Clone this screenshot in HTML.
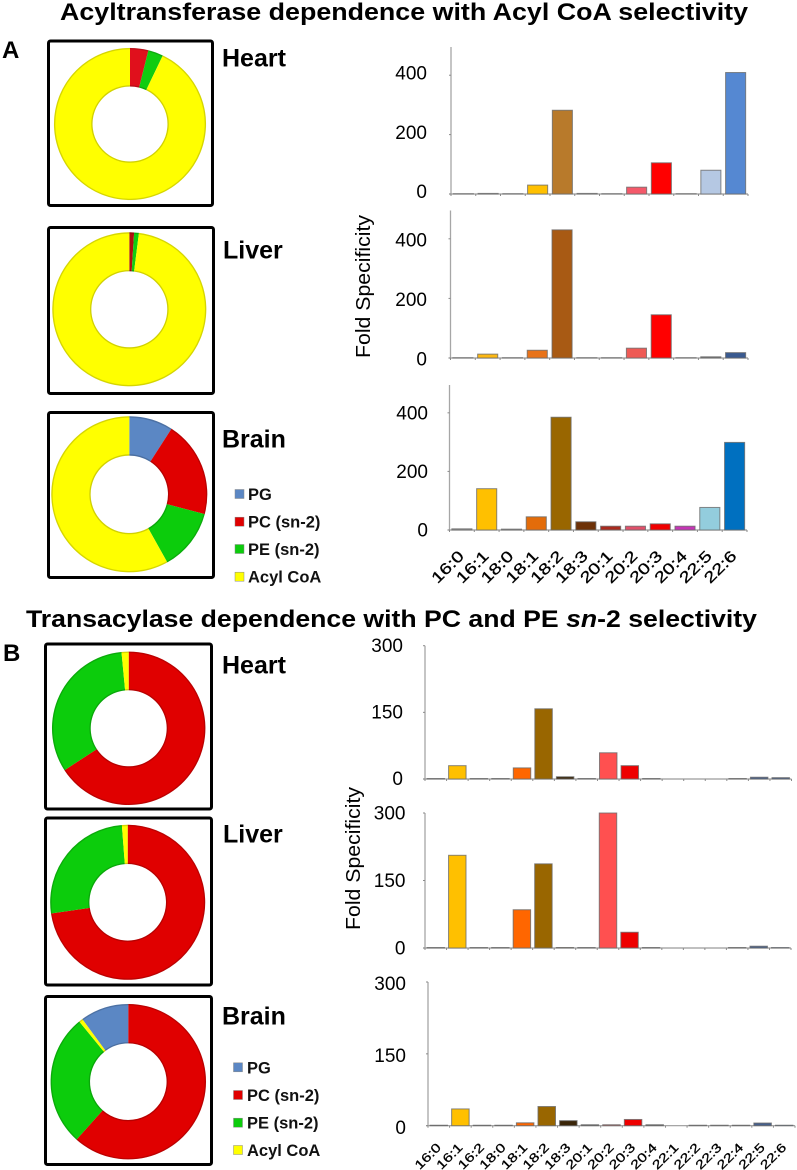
<!DOCTYPE html>
<html lang="en">
<head>
<meta charset="utf-8">
<title>Acyltransferase and transacylase selectivity</title>
<style>
  html, body { margin: 0; padding: 0; background: #fff; }
  #figure { display: block; width: 797px; height: 1170px; filter: blur(0.35px); font-family: "Liberation Sans", Arial, sans-serif; }
  .title { font-size: 24.5px; font-weight: bold; fill: #000; }
  .panel { font-size: 24px; font-weight: bold; fill: #000; }
  .organ { font-size: 25px; font-weight: bold; fill: #000; }
  .legend-text { font-size: 16.5px; font-weight: bold; fill: #111; }
  .fold { font-size: 20px; fill: #000; }
  .tick-label { font-size: 19px; fill: #000; }
  .cat-a { font-size: 15.5px; fill: #000; stroke: #000; stroke-width: .3; }
  .cat-b { font-size: 12.5px; fill: #000; stroke: #000; stroke-width: .3; }
</style>
</head>
<body>
<svg id="figure" xmlns="http://www.w3.org/2000/svg" width="797" height="1170" viewBox="0 0 797 1170">
  <rect x="0" y="0" width="797" height="1170" fill="#fff"/>

  <text class="title" x="60" y="20" textLength="688" lengthAdjust="spacingAndGlyphs">Acyltransferase dependence with Acyl CoA selectivity</text>
  <text class="title" x="26" y="627" textLength="731" lengthAdjust="spacingAndGlyphs">Transacylase dependence with PC and PE <tspan font-style="italic">sn</tspan>-2 selectivity</text>

  <text class="panel" x="2" y="58">A</text>
  <text class="panel" x="3" y="661">B</text>

  <text class="organ" x="222" y="66.7">Heart</text>
  <text class="organ" x="223" y="258.3">Liver</text>
  <text class="organ" x="222" y="447.7">Brain</text>
  <text class="organ" x="222" y="673.3">Heart</text>
  <text class="organ" x="223" y="842.7">Liver</text>
  <text class="organ" x="222" y="1024.3">Brain</text>

  <text class="fold" transform="translate(370,358) rotate(-90)" textLength="143" lengthAdjust="spacingAndGlyphs">Fold Specificity</text>
  <text class="fold" transform="translate(360,930) rotate(-90)" textLength="143" lengthAdjust="spacingAndGlyphs">Fold Specificity</text>

  <g id="donuts"></g>
  <g id="legends"></g>
  <g id="bars"></g>
</svg>

<script>
// ---- bar chart data ----
const categoriesA = ['16:0','16:1','18:0','18:1','18:2','18:3','20:1','20:2','20:3','20:4','22:5','22:6'];
const categoriesB = ['16:0','16:1','16:2','18:0','18:1','18:2','18:3','20:1','20:2','20:3','20:4','22:1','22:2','22:3','22:4','22:5','22:6'];
const tickLabelsA = [0, 200, 400];
const tickLabelsB = [0, 150, 300];

const heartAValues = [1, 2, 1, 30, 282, 2, 1, 23, 105, 1, 80, 409];
const liverAValues = [1, 13, 1, 26, 430, 1, 1, 33, 145, 1, 4, 18];
const brainAValues = [4, 141, 3, 45, 385, 28, 13, 13, 21, 13, 77, 299];
const heartBValues = [1, 30, 1, 1, 25, 158, 5, 1, 59, 30, 1, 0, 0, 0, 1, 4, 3];
const liverBValues = [1, 206, 1, 1, 85, 187, 1, 1, 300, 35, 1, 0, 0, 0, 1, 4, 1];
const brainBValues = [1, 35, 1, 1, 6, 40, 10.5, 2, 2, 13, 2, 0, 1, 1, 1, 5.6, 1];

// ---- donut data: share of PG, PC (sn-2), PE (sn-2), Acyl CoA ----
const donutSeries = ['PG', 'PC (sn-2)', 'PE (sn-2)', 'Acyl CoA'];
const heartAShares = [0, 3.9, 3.2, 92.9];
const liverAShares = [0, 1, 1, 98];
const brainAShares = [9.1, 20, 12.8, 58.1];
const heartBShares = [0, 65.8, 32.7, 1.5];
const liverBShares = [0, 72.7, 26.1, 1.2];
const brainBShares = [10.1, 61.6, 27.5, 0.8];

// ---- styling ----
const barColorsHeartA = ['#999','#999','#999','#ffc000','#b87a2b','#999','#999','#f4596a','#ff0000','#999','#b5c8e3','#5588d2'];
const barColorsLiverA = ['#999','#fdb813','#999','#e8731a','#a85a14','#999','#999','#ee5a55','#ff0000','#999','#777','#3a5a90'];
const barColorsBrainA = ['#999','#ffc000','#999','#e36c0a','#996600','#6e3208','#a92a1e','#e0506a','#f00000','#c535b5','#93cddd','#0070c0'];
const barColorsB = ['#555','#ffc000','#555','#555','#ff6600','#996600','#3a2508','#555','#ff5050','#ee0000','#555','#888','#666','#666','#555','#46608c','#46608c'];
const sliceColors = ['#5b87c4', '#e00000', '#0ccc0c', '#ffff00'];

const NS = 'http://www.w3.org/2000/svg';
function make(tag, attrs, parent) {
  const el = document.createElementNS(NS, tag);
  for (const k in attrs) el.setAttribute(k, attrs[k]);
  parent.appendChild(el);
  return el;
}

function drawBarChart(c) {
  const root = document.getElementById('bars');
  const g = make('g', {}, root);
  
  

  const band = (c.right - c.left) / c.categories.length;
  const xScale = i => c.left + band * i;
  const yScale = v => c.bottom - (v / c.domainMax) * (c.bottom - c.top);

  const yAxis = make('line', {x1: c.left, x2: c.left, y1: c.top, y2: c.bottom, stroke: '#a6a6a6', 'stroke-width': 1.3}, g);
  
  
  const xAxis = make('line', {x1: c.left - 2, x2: c.right, y1: c.bottom, y2: c.bottom, stroke: '#9a9a9a', 'stroke-width': 1.2}, g);
  
  

  c.ticks.forEach(t => {
    const mark = make('line', {x1: c.left - 2, x2: c.left, y1: yScale(t), y2: yScale(t), stroke: '#8a8a8a', 'stroke-width': 1}, g);
    
    
    const label = make('text', {class: 'tick-label', x: c.labelRight, y: yScale(t) + c.labelDy, dy: '.35em', 'text-anchor': 'end'}, g);
    label.textContent = String(t);
    
    
  });

  for (let i = 0; i <= c.categories.length; i++) {
    const mark = make('line', {x1: xScale(i), x2: xScale(i), y1: c.bottom, y2: c.bottom + 2, stroke: '#8a8a8a', 'stroke-width': 1}, g);
    
    
  }

  const barWidth = band * 0.81;
  c.values.forEach((v, i) => {
    if (v <= 0) return;
    const rect = make('rect', {
      x: xScale(i) + (band - barWidth) / 2,
      y: yScale(v),
      width: barWidth,
      height: c.bottom - yScale(v),
      fill: c.colors[i],
      stroke: '#6a6a6a',
      'stroke-width': 1,
      'stroke-opacity': 0.8
    }, g);
    
    
  });

  if (c.categoryClass) {
    c.categories.forEach((cat, i) => {
      const px = xScale(i) + band / 2 + 3;
      const py = c.bottom + c.categoryOffset;
      const label = make('text', {class: c.categoryClass, 'text-anchor': 'end', transform: 'translate(' + px + ',' + py + ') rotate(-45) scale(1.28,1)'}, g);
      label.textContent = cat;
      
      
    });
  }
}

function polar(cx, cy, r, deg) {
  const a = (deg - 90) * Math.PI / 180;
  return [cx + r * Math.cos(a), cy + r * Math.sin(a)];
}

function drawDonut(d) {
  const root = document.getElementById('donuts');
  const g = make('g', {}, root);
  
  

  const frame = make('rect', {x: d.fx + 1.5, y: d.fy + 1.5, width: d.fw - 3, height: d.fh - 3, rx: 2, fill: '#fff', stroke: '#000', 'stroke-width': 3}, g);
  
  

  const total = d.shares.reduce((s, v) => s + v, 0);
  let angle = d.start;
  d.shares.forEach((share, i) => {
    if (share <= 0) return;
    const sweep = share / total * 360;
    const end = angle + sweep;
    const large = sweep > 180 ? 1 : 0;
    const p1 = polar(d.cx, d.cy, d.R, angle);
    const p2 = polar(d.cx, d.cy, d.R, end);
    const p3 = polar(d.cx, d.cy, d.r, end);
    const p4 = polar(d.cx, d.cy, d.r, angle);
    const path = 'M' + p1[0] + ' ' + p1[1] + 'A' + d.R + ' ' + d.R + ' 0 ' + large + ' 1 ' + p2[0] + ' ' + p2[1] +
                 'L' + p3[0] + ' ' + p3[1] + 'A' + d.r + ' ' + d.r + ' 0 ' + large + ' 0 ' + p4[0] + ' ' + p4[1] + 'Z';
    const slice = make('path', {d: path, fill: d.colors ? d.colors[i] : sliceColors[i]}, g);
    
    
    angle = end;
  });

  const outerEdge = make('circle', {cx: d.cx, cy: d.cy, r: d.R - 0.6, fill: 'none', stroke: '#000', 'stroke-opacity': 0.16, 'stroke-width': 1.4}, g);
  
  
  const innerEdge = make('circle', {cx: d.cx, cy: d.cy, r: d.r + 0.6, fill: 'none', stroke: '#000', 'stroke-opacity': 0.18, 'stroke-width': 1.4}, g);
  
  
}

function drawLegend(name, swatchX, textX, rowYs) {
  const root = document.getElementById('legends');
  const g = make('g', {}, root);
  
  
  donutSeries.forEach((s, i) => {
    const swatch = make('rect', {x: swatchX, y: rowYs[i] - 4.5, width: 9, height: 9, fill: sliceColors[i], stroke: '#888', 'stroke-width': 0.5}, g);
    
    
    const label = make('text', {class: 'legend-text', x: textX, y: rowYs[i] + 6}, g);
    label.textContent = s;
    
    
  });
}

const redA = ['#5b87c4', '#e0101c', '#10cc10', '#ffff00'];
drawDonut({name: 'heart-a', shares: heartAShares, start: 0, colors: redA, fx: 47, fy: 39.5, fw: 167, fh: 167.5, cx: 130, cy: 124, R: 76, r: 37.5});
drawDonut({name: 'liver-a', shares: liverAShares, start: 0, colors: ['#5b87c4', '#b01010', '#10cc10', '#ffff00'], fx: 47, fy: 226, fw: 168, fh: 169, cx: 129.3, cy: 309.3, R: 77, r: 38});
drawDonut({name: 'brain-a', shares: brainAShares, start: 0, fx: 47, fy: 411, fw: 168, fh: 168, cx: 129.3, cy: 494.3, R: 78, r: 38.7});
drawDonut({name: 'heart-b', shares: heartBShares, start: 0, fx: 44, fy: 642.5, fw: 169, fh: 168, cx: 128.7, cy: 728.3, R: 76.7, r: 38});
drawDonut({name: 'liver-b', shares: liverBShares, start: 0, fx: 44, fy: 816.5, fw: 169, fh: 170, cx: 127.7, cy: 902.3, R: 77.5, r: 38.3});
drawDonut({name: 'brain-b', shares: brainBShares, start: -36.3, fx: 44, fy: 995, fw: 169, fh: 171, cx: 128.3, cy: 1081.7, R: 77.7, r: 38.3});

drawLegend('a', 235, 248, [494, 521.7, 549, 576.7]);
drawLegend('b', 233.5, 247, [1067.3, 1095, 1122.7, 1150]);

drawBarChart({name: 'heart-a', values: heartAValues, colors: barColorsHeartA, categories: categoriesA, ticks: tickLabelsA, domainMax: 495, left: 451, right: 748, top: 47, bottom: 194, labelRight: 427, labelDy: -2.5});
drawBarChart({name: 'liver-a', values: liverAValues, colors: barColorsLiverA, categories: categoriesA, ticks: tickLabelsA, domainMax: 495, left: 450.5, right: 748, top: 210.5, bottom: 358, labelRight: 427, labelDy: 1});
drawBarChart({name: 'brain-a', values: brainAValues, colors: barColorsBrainA, categories: categoriesA, ticks: tickLabelsA, domainMax: 495, left: 449.5, right: 747, top: 385, bottom: 530, labelRight: 428, labelDy: 0, categoryClass: 'cat-a', categoryOffset: 27});
drawBarChart({name: 'heart-b', values: heartBValues, colors: barColorsB, categories: categoriesB, ticks: tickLabelsB, domainMax: 300, left: 425, right: 791.5, top: 645.7, bottom: 779, labelRight: 403, labelDy: -0.5});
drawBarChart({name: 'liver-b', values: liverBValues, colors: barColorsB, categories: categoriesB, ticks: tickLabelsB, domainMax: 300, left: 425, right: 791, top: 813, bottom: 948, labelRight: 405.5, labelDy: 0});
drawBarChart({name: 'brain-b', values: brainBValues, colors: barColorsB, categories: categoriesB, ticks: tickLabelsB, domainMax: 300, left: 428, right: 795, top: 982, bottom: 1125.7, labelRight: 406, labelDy: 1.5, categoryClass: 'cat-b', categoryOffset: 22.5});
</script>
</body>
</html>
